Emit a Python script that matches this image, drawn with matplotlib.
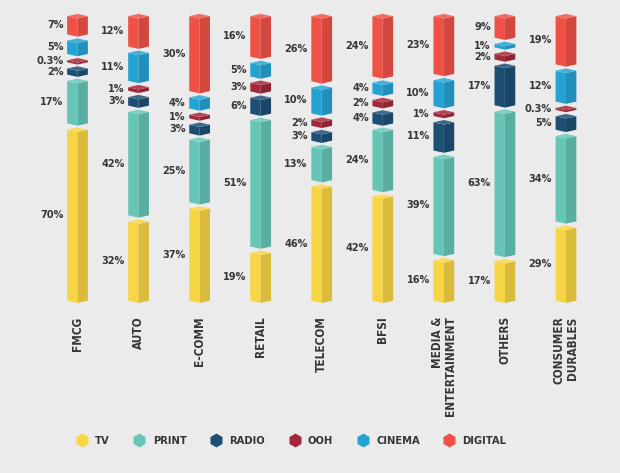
import matplotlib.pyplot as plt
import matplotlib.colors as mcolors
import numpy as np
from matplotlib.lines import Line2D

plt.rcParams['font.family'] = ['DejaVu Sans']
plt.rcParams['font.stretch'] = 'condensed'

# data (percent share of ad spend by medium)
categories = ['FMCG', 'AUTO', 'E-COMM', 'RETAIL', 'TELECOM', 'BFSI',
              'MEDIA &\nENTERTAINMENT', 'OTHERS', 'CONSUMER\nDURABLES']
series = ['TV', 'PRINT', 'RADIO', 'OOH', 'CINEMA', 'DIGITAL']
tv = [70, 32, 37, 19, 46, 42, 16, 17, 29]
print_ = [17, 42, 25, 51, 13, 24, 39, 63, 34]
radio = [2, 3, 3, 6, 3, 4, 11, 17, 5]
ooh = [0.3, 1, 1, 3, 2, 2, 1, 2, 0.3]
cinema = [5, 11, 4, 5, 10, 4, 10, 1, 12]
digital = [7, 12, 30, 16, 26, 24, 23, 9, 19]

colors = ['#f8d544', '#65c6b7', '#1d4f75', '#a3283a', '#24a3d3', '#ef5146']
BG = '#ebebec'
TEXT = '#36363a'


def shade(c, f):
    r, g, b = mcolors.to_rgb(c)
    if f < 1:
        return (r * f, g * f, b * f)
    f = f - 1
    return (r + (1 - r) * f, g + (1 - g) * f, b + (1 - b) * f)


def fmt(v):
    return '{:g}%'.format(v)


fig = plt.figure(figsize=(6.2, 4.73), dpi=100, facecolor=BG)
ax = fig.add_axes([0, 0, 1, 1])
ax.set_facecolor(BG)
ax.set_xlim(-1.269, 8.885)
ax.set_ylim(-58.8, 104.8)
ax.axis('off')

data = np.array([tv, print_, radio, ooh, cinema, digital])  # series x category
w = 0.17      # half width of a bar
d = 0.8       # chevron depth
b = 2.0       # extra height per segment
gap = 0.6

for i in range(len(categories)):
    vals = data[:, i]
    a = (100 - gap * (len(vals) - 1) - b * len(vals)) / vals.sum()
    y0 = 0.0
    for j, v in enumerate(vals):
        h = a * v + b
        y1 = y0 + h
        c = colors[j]
        x0, xc, x1 = i - w, i, i + w
        # left face
        ax.fill([x0, xc, xc, x0], [y0 + d, y0, y1 - 2 * d, y1 - d],
                color=c, lw=0)
        # right face
        ax.fill([xc, x1, x1, xc], [y0, y0 + d, y1 - d, y1 - 2 * d],
                color=shade(c, 0.88), lw=0)
        # top
        ax.fill([x0, xc, x1, xc], [y1 - d, y1 - 2 * d, y1 - d, y1],
                color=shade(c, 1.15), lw=0)
        ax.text(i - w - 0.06, (y0 + y1) / 2, fmt(v), ha='right', va='center',
                fontsize=7.8, fontweight='bold', color=TEXT)
        y0 = y1 + gap
    ax.text(i, -4.6, categories[i], rotation=90, ha='center', va='top',
            multialignment='right', fontsize=8.5, fontweight='bold', color=TEXT,
            linespacing=1.0)

handles = [Line2D([], [], ls='none', marker='h', markersize=10,
                  markerfacecolor=c, markeredgewidth=0) for c in colors]
fig.legend(handles, series, loc='center', bbox_to_anchor=(0.471, 0.068),
           ncol=6, frameon=False, handlelength=0.8, handletextpad=0.8,
           columnspacing=2.25, prop={'weight': 'bold', 'size': 8,
                                     'stretch': 'condensed'},
           labelcolor=TEXT)

fig.savefig('out.png', dpi=100, facecolor=BG)
